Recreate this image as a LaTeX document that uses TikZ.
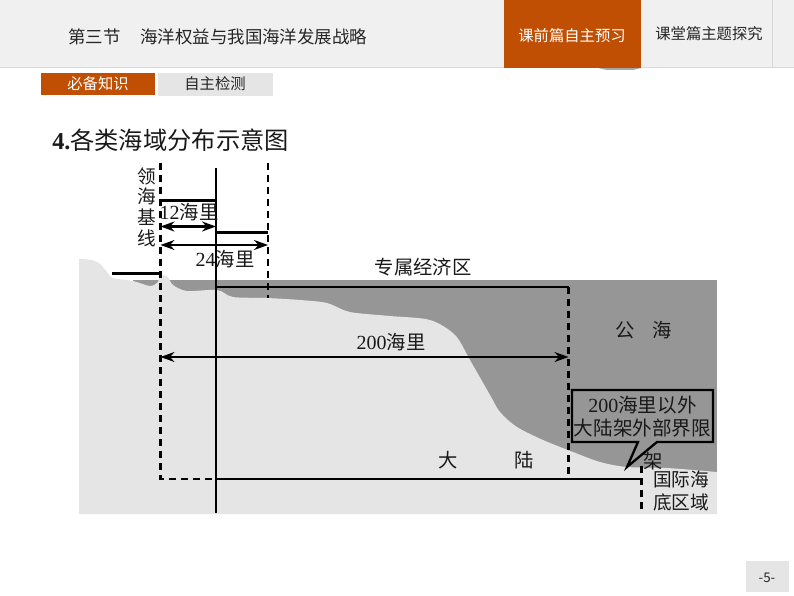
\documentclass[tikz,border=0pt]{standalone}
\usepackage{fontspec}
\setmainfont{Liberation Serif}
\newfontfamily\cjk{Noto Sans CJK SC}
\newfontfamily\lat{Liberation Serif}
\usetikzlibrary{arrows.meta}
\definecolor{tabred}{HTML}{C14F03}
\definecolor{bargray}{HTML}{F0F0F0}
\definecolor{seadark}{HTML}{969696}
\definecolor{landlight}{HTML}{E5E5E5}
\tikzset{
  headtxt/.style={font=\cjk\fontsize{13.1}{15}\selectfont,text=black!85},
  tabtxt/.style={font=\cjk\fontsize{11.5}{14}\selectfont,text=black!85},
  maptxt/.style={font=\cjk\fontsize{14.5}{18}\selectfont,inner sep=0pt,text=black!90,align=center},
  bline/.style={draw=black,line width=1.55pt},
  dline/.style={draw=black,line width=1.55pt,dash pattern=on 5.5pt off 3.5pt},
  arr/.style={draw=black,line width=1.55pt,{Stealth[length=10.5pt,width=7.5pt]}-{Stealth[length=10.5pt,width=7.5pt]}},
}
\begin{document}
\begin{tikzpicture}[x=0.75pt,y=-0.75pt]
      \useasboundingbox (0,0) rectangle (794,596);

      % header
      \fill[bargray] (0,0) rectangle (794,67);
      \draw[black!15,line width=.6pt] (0,67.5) -- (794,67.5);
      \draw[black!15,line width=.6pt] (772.5,0) -- (772.5,67);
      \fill[black!35] (598,68) -- (641,68) -- (634,69.8) -- (606,69.8) -- cycle;
      \fill[tabred] (504,0) rectangle (641,68);
      \fill[tabred] (41,73) rectangle (155,95);
      \fill[landlight] (158,73) rectangle (273,95.5);
      \fill[landlight] (746,561) rectangle (789,592);

      \node[headtxt,anchor=west,inner sep=0pt] (sec) at (68,37) {第三节};
      \node[headtxt,anchor=west,inner sep=0pt] (ttl) at (140,37) {海洋权益与我国海洋发展战略};
      \node[tabtxt,text=white] (tab1) at (572,35.5) {课前篇自主预习};
      \node[tabtxt] (tab2) at (709,34) {课堂篇主题探究};
      \node[tabtxt,text=white] (sub1) at (98,84) {必备知识};
      \node[tabtxt] (sub2) at (215,84) {自主检测};
      \node[tabtxt,font=\cjk\fontsize{10}{12}\selectfont] (pg) at (767,578) {-5-};
      \node[anchor=west,inner sep=0pt,font=\cjk\fontsize{18.2}{22}\selectfont,text=black!90] (head) at (52,140)
        {{\lat\bfseries 4.}各类海域分布示意图};

      % sea and land
      \fill[seadark] (133,280) rectangle (717,473);
      \fill[landlight] (79,514) -- (79,259) -- plot[smooth,tension=.5] coordinates {
        (79,259) (92,260) (100,264) (107,272) (113,278) (133,281) (150,286) (158,282)
        (160,276) (167,276) (173,285) (187,291) (217,290) (233,297) (267,298) (300,300)
        (327,303) (350,312) (390,316) (430,320) (455,335) (470,360) (490,395) (500,412)
        (517,427) (543,440) (573,452) (600,462) (627,467) (667,468) (717,472)}
        -- (717,514) -- cycle;

      % limits
      \coordinate (base0) at (160.5,163);
      \coordinate (base1) at (160.5,479);
      \coordinate (mid0)  at (216,168);
      \coordinate (mid1)  at (216,513);
      \coordinate (mid2)  at (216,479);
      \coordinate (mid3)  at (216,287);
      \coordinate (far0)  at (268,163);
      \coordinate (far1)  at (268,298);
      \coordinate (eez0)  at (568.5,287);
      \coordinate (eez1)  at (568.5,479);
      \coordinate (edge0) at (641.5,479);
      \coordinate (edge1) at (641.5,466);
      \coordinate (edge2) at (641.5,513);
      \coordinate (top12a) at (160.5,200.5);
      \coordinate (top12b) at (216,200.5);
      \coordinate (top24a) at (216,232.5);
      \coordinate (top24b) at (268,232.5);
      \coordinate (shore0) at (112,273.5);
      \coordinate (shore1) at (159,273.5);
      \coordinate (a12l) at (160.5,226.5);
      \coordinate (a12r) at (216,226.5);
      \coordinate (a24l) at (160.5,245);
      \coordinate (a24r) at (268,245);
      \coordinate (a200l) at (160.5,357);
      \coordinate (a200r) at (568.5,357);

      \draw[dline] (base0) -- (base1) -- (mid2);
      \draw[dline] (far0) -- (far1);
      \draw[dline] (eez0) -- (eez1);
      \draw[dline] (edge1) -- (edge2);
      \draw[bline] (mid0) -- (mid1);
      \draw[bline] (mid2) -- (edge0);
      \draw[bline] (mid3) -- (eez0);
      \draw[bline] (top12a) -- (top12b);
      \draw[bline] (top24a) -- (top24b);
      \draw[bline] (shore0) -- (shore1);
      \draw[arr] (a12l) -- (a12r);
      \draw[arr] (a24l) -- (a24r);
      \draw[arr] (a200l) -- (a200r);

      % callout
      \draw[black,line width=1.7pt,line join=miter] (572,390) -- (713,390) -- (713,442) -- (657,442)
        -- (627,467) -- (638,442) -- (572,442) -- cycle;

      % labels
      \node[maptxt,font=\cjk\fontsize{14}{15.5}\selectfont] (baseline) at (147,207) {领\\海\\基\\线};
      \node[maptxt] (l12) at (189,212) {{\lat\fontsize{15}{15}\selectfont 12}海里};
      \node[maptxt] (l24) at (225,259) {{\lat\fontsize{15}{15}\selectfont 24}海里};
      \node[maptxt] (leez) at (423,267) {专属经济区};
      \node[maptxt] (l200) at (391,342) {{\lat\fontsize{15}{15}\selectfont 200}海里};
      \node[maptxt] (lsea) at (644,330) {公\hspace{.9em}海};
      \node[maptxt,font=\cjk\fontsize{14.7}{17.2}\selectfont] (lcall) at (642.5,417)
        {{\lat\fontsize{15}{15}\selectfont 200}海里以外\\大陆架外部界限};
      \node[maptxt] (ld) at (448,460) {大};
      \node[maptxt] (lu) at (524,460) {陆};
      \node[maptxt] (jia) at (653,461) {架};
      \node[maptxt,font=\cjk\fontsize{14}{17}\selectfont] (lint) at (681,491) {国际海\\底区域};

    \end{tikzpicture}
\end{document}
